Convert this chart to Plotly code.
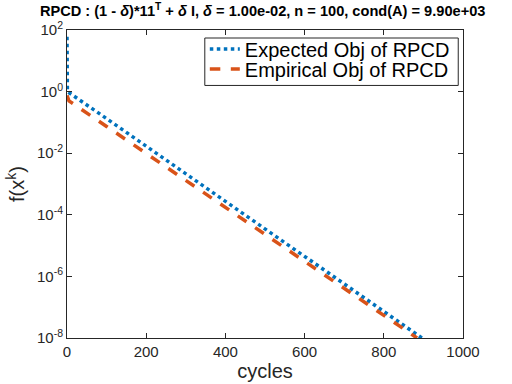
import plotly.graph_objects as go

# valores (ciclos x f(x^k))
ciclos_esperado = [0, 1, 100, 200, 300, 400, 500, 600, 700, 800, 896]
obj_esperado = [60, 1.0, 1.33e-1, 1.7e-2, 2.2e-3, 2.8e-4, 3.5e-5, 4.5e-6, 5.7e-7, 7.3e-8, 1.0e-8]

ciclos_empirico = [0, 5, 100, 200, 300, 400, 500, 600, 700, 800, 884]
obj_empirico = [0.75, 0.5, 7.4e-2, 9.8e-3, 1.3e-3, 1.7e-4, 2.3e-5, 3.1e-6, 4.1e-7, 5.5e-8, 1.0e-8]

y_ticks = [1e-8, 1e-6, 1e-4, 1e-2, 1, 1e2]
y_labels = ["10<sup>-8</sup>", "10<sup>-6</sup>", "10<sup>-4</sup>", "10<sup>-2</sup>", "10<sup>0</sup>", "10<sup>2</sup>"]
x_ticks = [0, 200, 400, 600, 800, 1000]

fonte = "Liberation Sans, Arial, sans-serif"
cinza = "#262626"

fig = go.Figure()
fig.add_trace(go.Scatter(x=ciclos_esperado, y=obj_esperado, mode="lines",
                         name="Expected Obj of RPCD", legend="legend",
                         line=dict(color="#0072BD", width=3.5, dash="dot")))
fig.add_trace(go.Scatter(x=ciclos_empirico, y=obj_empirico, mode="lines",
                         name="Empirical Obj of RPCD", legend="legend2",
                         line=dict(color="#D95319", width=3.5, dash="dash")))

eixo = dict(showline=True, linecolor=cinza, linewidth=1, mirror="ticks",
            ticks="inside", ticklen=5, tickcolor=cinza, showgrid=False,
            zeroline=False, automargin=False,
            tickfont=dict(family=fonte, size=15, color=cinza))

# legenda em duas partes para ficar com linhas bem juntas, como no MATLAB
leg = dict(x=0.348, xanchor="left", yanchor="middle", bgcolor="rgba(0,0,0,0)",
           borderwidth=0, font=dict(size=20, family=fonte, color="black"))

fig.update_layout(
    width=512, height=384,
    margin=dict(l=67, r=49, t=30, b=46),
    paper_bgcolor="white", plot_bgcolor="white",
    font=dict(family=fonte, color="black"),
    title=dict(text="<b>RPCD : (1 - <i>δ</i>)*11<sup>T</sup> + <i>δ</i> I, <i>δ</i> = 1.00e-02, n = 100, cond(A) = 9.90e+03</b>",
               x=0.513, xanchor="center", y=0.971, yanchor="middle",
               font=dict(size=14.6, family=fonte)),
    xaxis=dict(range=[0, 1000], tickvals=x_ticks,
               title=dict(text="cycles", font=dict(size=20, family=fonte, color=cinza), standoff=4),
               **eixo),
    yaxis=dict(type="log", range=[-8, 2], tickvals=y_ticks, ticktext=y_labels,
               title=dict(text="f(x<sup>k</sup>)", font=dict(size=20, family=fonte, color=cinza), standoff=6),
               **eixo),
    legend=dict(y=0.938, **leg),
    legend2=dict(y=0.873, **leg),
    shapes=[dict(type="rect", xref="paper", yref="paper", x0=0.348, x1=0.988,
                 y0=0.82, y1=0.974, line=dict(color=cinza, width=1),
                 fillcolor="white", layer="below")],
    showlegend=True,
)

fig.write_html("out.html", config={"displayModeBar": False},
               post_script="document.body.style.margin='0';")
